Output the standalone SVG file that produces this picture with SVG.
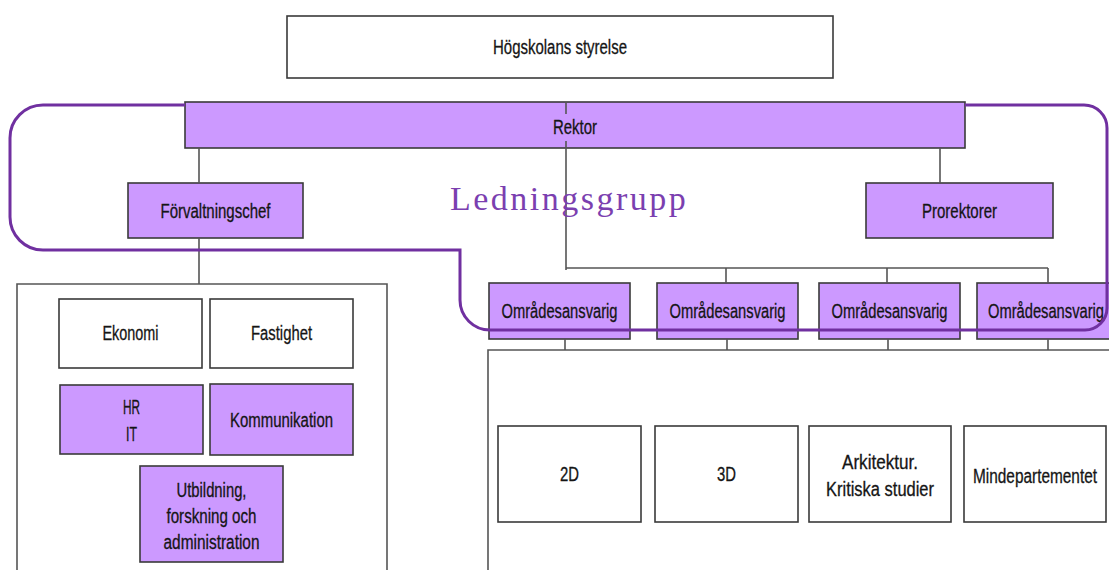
<svg xmlns="http://www.w3.org/2000/svg" width="1109" height="570" viewBox="0 0 1109 570">
<style>
.box{fill:#ffffff;stroke:#3a3a3a;stroke-width:1.6}
.pbox{fill:#cc99ff;stroke:#3a3a3a;stroke-width:1.6}
.t{font-family:"Liberation Sans",Arial,sans-serif;font-size:20px;fill:#151515;stroke:#151515;stroke-width:0.3;text-anchor:middle;dominant-baseline:central}
.c{fill:none;stroke:#555555;stroke-width:1.6}
.loop{fill:none;stroke:#7030a0;stroke-width:3}
.lg{font-family:"Liberation Serif","Times New Roman",serif;font-size:34px;letter-spacing:2.5px;fill:#7b3fb0}
</style>
<rect width="1109" height="570" fill="#ffffff"/>
<g id="containers">
<path class="c" d="M17,570 V284 H387 V570"/>
<path class="c" d="M488,570 V350 H1112"/>
</g>
<g id="nodes">
<g id="n-styrelse"><rect class="box" x="287" y="16" width="546" height="62"/><text class="t" x="560" y="47" textLength="134" lengthAdjust="spacingAndGlyphs">Högskolans styrelse</text></g>
<g id="n-rektor"><rect class="pbox" x="185" y="102" width="780" height="46"/><text class="t" x="575" y="127" textLength="44" lengthAdjust="spacingAndGlyphs">Rektor</text></g>
<g id="n-forvaltningschef"><rect class="pbox" x="128" y="183" width="175" height="55"/><text class="t" x="215.5" y="211" textLength="110" lengthAdjust="spacingAndGlyphs">Förvaltningschef</text></g>
<g id="n-prorektorer"><rect class="pbox" x="866" y="183" width="187" height="55"/><text class="t" x="959.5" y="211" textLength="75" lengthAdjust="spacingAndGlyphs">Prorektorer</text></g>
<g id="n-omr1"><rect class="pbox" x="489" y="283" width="141" height="56"/><text class="t" x="559.5" y="311" textLength="116" lengthAdjust="spacingAndGlyphs">Områdesansvarig</text></g>
<g id="n-omr2"><rect class="pbox" x="657" y="283" width="141" height="56"/><text class="t" x="727.5" y="311" textLength="116" lengthAdjust="spacingAndGlyphs">Områdesansvarig</text></g>
<g id="n-omr3"><rect class="pbox" x="819" y="283" width="141" height="56"/><text class="t" x="889.5" y="311" textLength="116" lengthAdjust="spacingAndGlyphs">Områdesansvarig</text></g>
<g id="n-omr4"><rect class="pbox" x="977" y="283" width="141" height="56"/><text class="t" x="1046" y="311" textLength="116" lengthAdjust="spacingAndGlyphs">Områdesansvarig</text></g>
<g id="n-ekonomi"><rect class="box" x="59" y="299" width="143" height="69"/><text class="t" x="130.5" y="333" textLength="56" lengthAdjust="spacingAndGlyphs">Ekonomi</text></g>
<g id="n-fastighet"><rect class="box" x="210" y="299" width="143" height="69"/><text class="t" x="281.5" y="333" textLength="61" lengthAdjust="spacingAndGlyphs">Fastighet</text></g>
<g id="n-hrit"><rect class="pbox" x="60" y="385" width="143" height="69"/><text class="t" x="131.5" y="407" textLength="17" lengthAdjust="spacingAndGlyphs">HR</text><text class="t" x="131.5" y="434" textLength="11" lengthAdjust="spacingAndGlyphs">IT</text></g>
<g id="n-kommunikation"><rect class="pbox" x="210" y="384" width="143" height="71"/><text class="t" x="281.5" y="420" textLength="103" lengthAdjust="spacingAndGlyphs">Kommunikation</text></g>
<g id="n-utbildning"><rect class="pbox" x="140" y="466" width="143" height="96"/><text class="t" x="211.5" y="490" textLength="70" lengthAdjust="spacingAndGlyphs">Utbildning,</text><text class="t" x="211.5" y="516" textLength="90" lengthAdjust="spacingAndGlyphs">forskning och</text><text class="t" x="211.5" y="542" textLength="96" lengthAdjust="spacingAndGlyphs">administration</text></g>
<g id="n-2d"><rect class="box" x="498" y="426" width="143" height="96"/><text class="t" x="569.5" y="474" textLength="19" lengthAdjust="spacingAndGlyphs">2D</text></g>
<g id="n-3d"><rect class="box" x="655" y="426" width="143" height="96"/><text class="t" x="726.5" y="474" textLength="19" lengthAdjust="spacingAndGlyphs">3D</text></g>
<g id="n-arkitektur"><rect class="box" x="809" y="426" width="142" height="96"/><text class="t" x="880" y="462" textLength="76" lengthAdjust="spacingAndGlyphs">Arkitektur.</text><text class="t" x="880" y="489" textLength="108" lengthAdjust="spacingAndGlyphs">Kritiska studier</text></g>
<g id="n-mindepartementet"><rect class="box" x="964" y="426" width="142" height="96"/><text class="t" x="1035" y="476" textLength="124" lengthAdjust="spacingAndGlyphs">Mindepartementet</text></g>
</g>
<g id="connectors">
<path class="c" d="M566,102 V114 M566,141 V270"/>
<path class="c" d="M566,268 H1048 M726,268 V283 M887,268 V283 M1048,268 V283"/>
<path class="c" d="M199,148 V183 M199,238 V284"/>
<path class="c" d="M940,148 V183"/>
<path class="c" d="M565,339 V350 M727,339 V350 M888,339 V350 M1048,339 V350"/>
</g>
<g id="ledningsgrupp">
<path class="loop" d="M185,105 H43 A33,33 0 0 0 10,138 V217 A33,33 0 0 0 43,250 H460 V300 A30,30 0 0 0 490,330 H1085 A22,22 0 0 0 1107,308 V128 A23,23 0 0 0 1084,105 H965"/>
<text class="lg" x="450" y="210">Ledningsgrupp</text>
</g>
</svg>
